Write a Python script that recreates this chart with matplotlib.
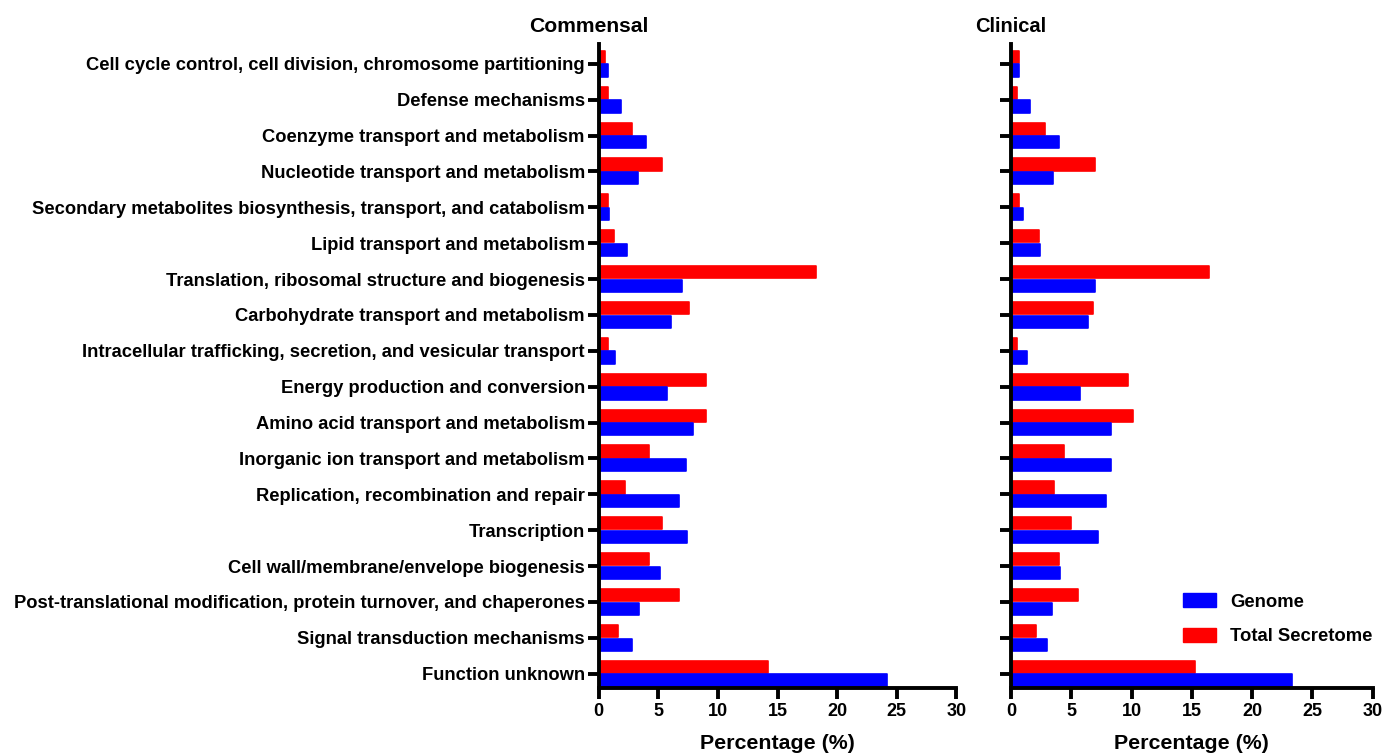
import numpy as np
import matplotlib
matplotlib.use("Agg")
import matplotlib.pyplot as plt
from matplotlib.patches import Patch

plt.rcParams["font.family"] = ["Liberation Sans", "DejaVu Sans"]
plt.rcParams["font.weight"] = "bold"

CATEGORIES = [
    "Cell cycle control, cell division, chromosome partitioning",
    "Defense mechanisms",
    "Coenzyme transport and metabolism",
    "Nucleotide transport and metabolism",
    "Secondary metabolites biosynthesis, transport, and catabolism",
    "Lipid transport and metabolism",
    "Translation, ribosomal structure and biogenesis",
    "Carbohydrate transport and metabolism",
    "Intracellular trafficking, secretion, and vesicular transport",
    "Energy production and conversion",
    "Amino acid transport and metabolism",
    "Inorganic ion transport and metabolism",
    "Replication, recombination and repair",
    "Transcription",
    "Cell wall/membrane/envelope biogenesis",
    "Post-translational modification, protein turnover, and chaperones",
    "Signal transduction mechanisms",
    "Function unknown",
]

commensal_genome = [0.8, 1.9, 4.0, 3.3, 0.9, 2.4, 7.0, 6.1, 1.4,
                    5.7, 7.9, 7.3, 6.7, 7.4, 5.1, 3.4, 2.8, 24.2]
commensal_secretome = [0.5, 0.8, 2.8, 5.3, 0.8, 1.3, 18.2, 7.6, 0.8,
                       9.0, 9.0, 4.2, 2.2, 5.3, 4.2, 6.7, 1.6, 14.2]
clinical_genome = [0.7, 1.6, 4.0, 3.5, 1.0, 2.4, 7.0, 6.4, 1.3,
                   5.7, 8.3, 8.3, 7.9, 7.2, 4.1, 3.4, 3.0, 23.3]
clinical_secretome = [0.7, 0.5, 2.8, 7.0, 0.7, 2.3, 16.4, 6.8, 0.5,
                      9.7, 10.1, 4.4, 3.6, 5.0, 4.0, 5.6, 2.1, 15.3]

BLUE = "#0000FF"
RED = "#FF0000"


def draw_panel(ax, genome, secretome, title, title_x, title_size, show_labels):
    y = np.arange(len(CATEGORIES))
    ax.barh(y - 0.19, secretome, height=0.34, color=RED, edgecolor=RED,
            linewidth=1.2, joinstyle="round", label="Total Secretome")
    ax.barh(y + 0.19, genome, height=0.34, color=BLUE, edgecolor=BLUE,
            linewidth=1.2, joinstyle="round", label="Genome")
    ax.set_ylim(17.4, -0.55)
    ax.set_xlim(0, 30)
    ax.set_xticks([0, 5, 10, 15, 20, 25, 30])
    ax.set_yticks(y)
    if show_labels:
        ax.set_yticklabels(CATEGORIES)
    else:
        ax.set_yticklabels([])
    for side in ("top", "right"):
        ax.spines[side].set_visible(False)
    for side in ("left", "bottom"):
        ax.spines[side].set_linewidth(2.8)
        ax.spines[side].set_zorder(3)
    ax.tick_params(axis="both", width=2.8, length=8)
    ax.tick_params(axis="x", labelsize=13, pad=3)
    ax.tick_params(axis="y", labelsize=13.2, pad=2)
    for lbl in ax.get_xticklabels() + ax.get_yticklabels():
        lbl.set_fontweight("bold")
    ax.set_xlabel("Percentage (%)", fontsize=15.4, fontweight="bold", labelpad=10)
    ax.text(title_x, 1.012, title, transform=ax.transAxes, ha="center",
            va="bottom", fontsize=title_size, fontweight="bold")


fig = plt.figure(figsize=(13.86, 7.55), dpi=100)
ax1 = fig.add_axes([0.432, 0.0887, 0.258, 0.853])
ax2 = fig.add_axes([0.7294, 0.0887, 0.261, 0.853])

draw_panel(ax1, commensal_genome, commensal_secretome, "Commensal", -0.028, 15.2, True)
draw_panel(ax2, clinical_genome, clinical_secretome, "Clinical", 0.0, 14.5, False)

handles = [Patch(color=BLUE, label="Genome"), Patch(color=RED, label="Total Secretome")]
ax2.legend(handles=handles, loc="upper left", bbox_to_anchor=(0.475, 0.147),
           frameon=False, borderpad=0, borderaxespad=0,
           handlelength=1.8, handleheight=0.75, handletextpad=0.75,
           labelspacing=0.95, prop={"weight": "bold", "size": 13.3})

fig.savefig("out.png", dpi=100)
